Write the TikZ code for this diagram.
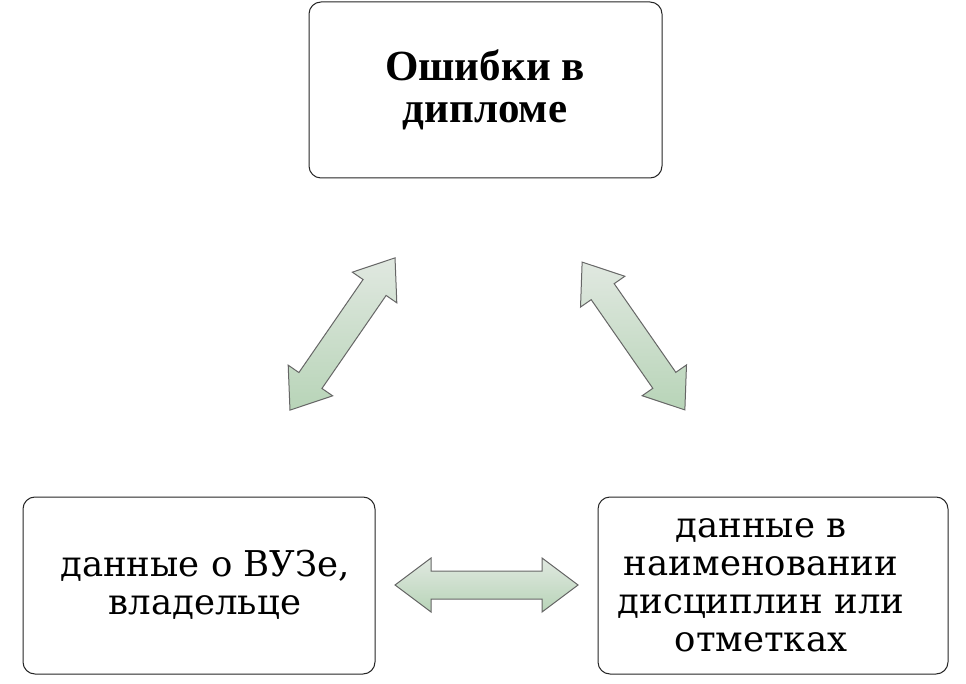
\documentclass[tikz,border=0pt]{standalone}
\usepackage{fontspec}
\setmainfont{DejaVu Serif}
\newfontfamily\boldser{Liberation Serif}
\begin{document}
\begin{tikzpicture}[x=1pt,y=-1pt,
  box/.style={draw=black!85,line width=1pt,rounded corners=12pt,fill=white,align=center,inner sep=0pt},
  txt/.style={font=\fontsize{35.5}{38}\selectfont,align=center},
  dbl/.pic={
    \path[draw=black!60,line width=1pt,line join=miter,top color=green!25!black!12!white,bottom color=green!40!black!28!white]
      (-\L,0) -- (-\L+36,-27) -- (-\L+36,-14) -- (\L-36,-14) -- (\L-36,-27) -- (\L,0)
      -- (\L-36,27) -- (\L-36,14) -- (-\L+36,14) -- (-\L+36,27) -- cycle;
  }]
\useasboundingbox (0,0) rectangle (966,684);
\fill[white] (0,0) rectangle (966,684);
\node[box,minimum width=353pt,minimum height=176pt] (top) at (485.5,90) {};
\node[font=\boldser\bfseries\fontsize{43}{42}\selectfont,align=center] at (485,90) {Ошибки в\\ дипломе};
\node[box,minimum width=352pt,minimum height=177pt] (bl) at (199,585.5) {};
\node[txt] at (205,585) {данные о ВУЗе,\\ владельце};
\node[box,minimum width=350pt,minimum height=177pt] (br) at (773,585.5) {};
\node[txt] at (761,585) {данные в\\ наименовании\\ дисциплин или\\ отметках};
\def\L{92.5}
\pic[rotate=55.4] at (342.5,334) {dbl};
\def\L{90}
\pic[rotate=-55.2] at (633.5,336) {dbl};
\def\L{91.5}
\pic at (486.5,585) {dbl};
\end{tikzpicture}
\end{document}
